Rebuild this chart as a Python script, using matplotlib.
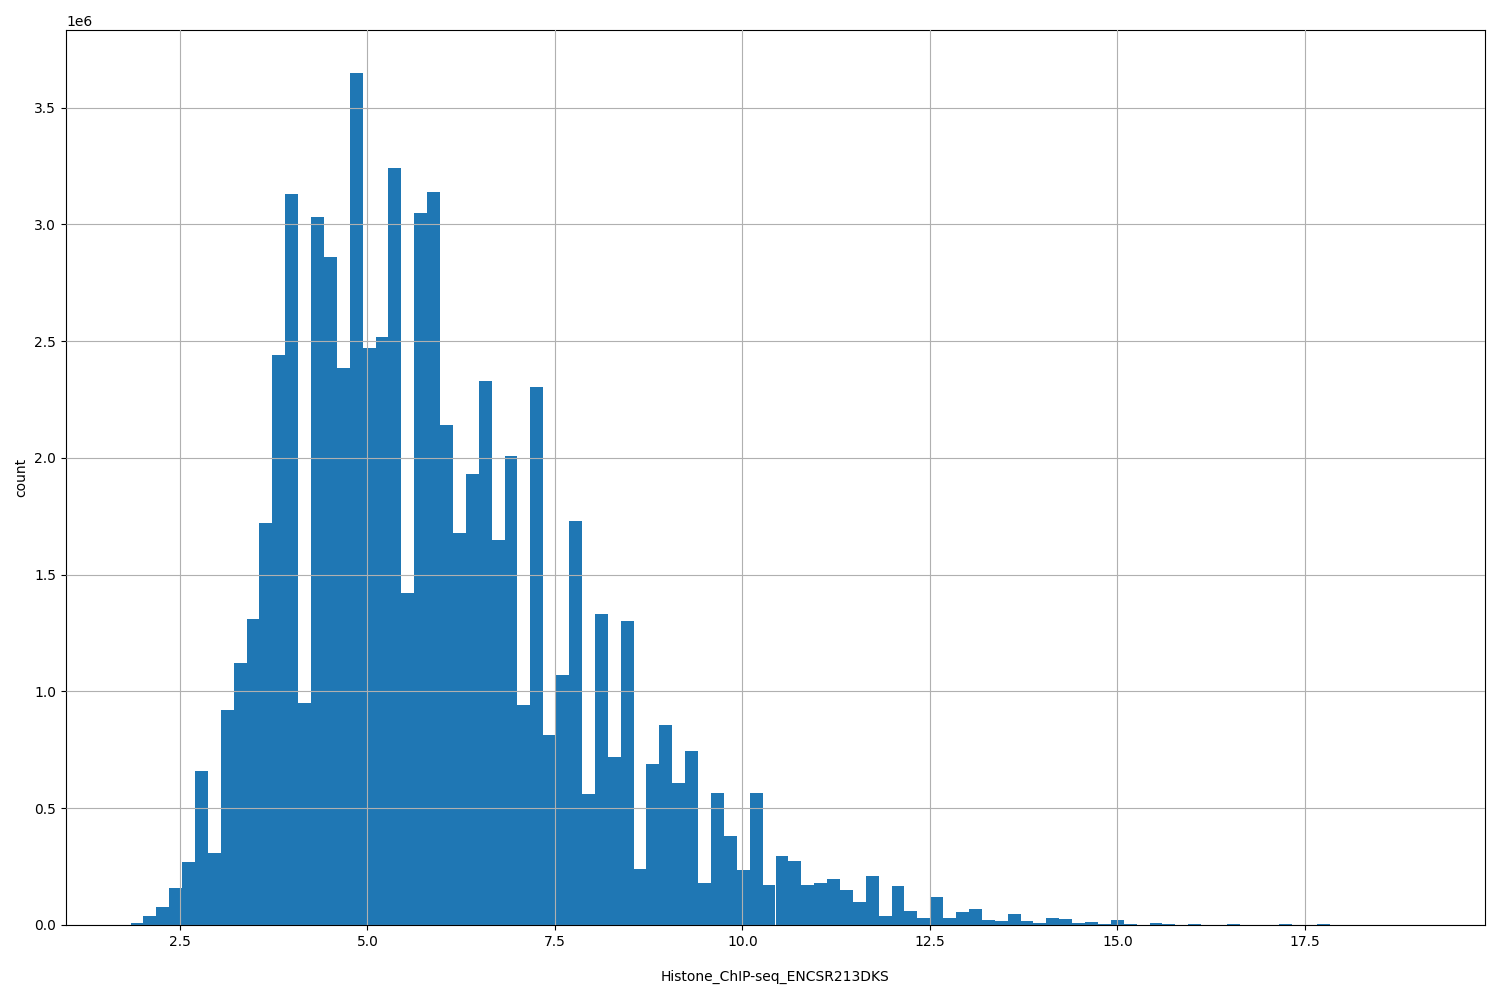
import numpy as np
import matplotlib
matplotlib.use("Agg")
import matplotlib.pyplot as plt

x_min, x_max, n_bins = 1.84, 19.04, 100
counts_m = [0.01,0.04,0.075,0.16,0.27,0.66,0.31,0.92,1.12,1.31,
            1.72,2.44,3.13,0.95,3.03,2.86,2.385,3.65,2.47,2.52,
            3.24,1.42,3.05,3.14,2.14,1.68,1.93,2.33,1.65,2.01,
            0.94,2.305,0.815,1.07,1.73,0.56,1.33,0.72,1.30,0.24,
            0.69,0.855,0.61,0.745,0.18,0.565,0.38,0.235,0.565,0.17,
            0.295,0.275,0.17,0.18,0.195,0.15,0.10,0.21,0.04,0.165,
            0.06,0.03,0.12,0.03,0.055,0.07,0.02,0.015,0.045,0.015,
            0.01,0.03,0.025,0.008,0.012,0.003,0.02,0.005,0.002,0.008,
            0.004,0.001,0.003,0.001,0.0005,0.003,0.001,0.002,0.0005,0.003,
            0.0005,0.0005,0.003,0.0005,0.0005,0.0005,0.0005,0.0005,0.0005,0.0005]

edges = np.linspace(x_min, x_max, n_bins + 1)
centers = (edges[:-1] + edges[1:]) / 2
weights = np.array(counts_m) * 1e6

fig, ax = plt.subplots(figsize=(15, 10), dpi=100)
ax.hist(centers, bins=edges, weights=weights, color="#1f77b4")
ax.grid(True)
ax.set_axisbelow(False)
ax.set_xlabel("Histone_ChIP-seq_ENCSR213DKS", labelpad=15)
ax.set_ylabel("count")
fig.subplots_adjust(left=0.044, right=0.99, top=0.97, bottom=0.075)
fig.savefig("out.png")
